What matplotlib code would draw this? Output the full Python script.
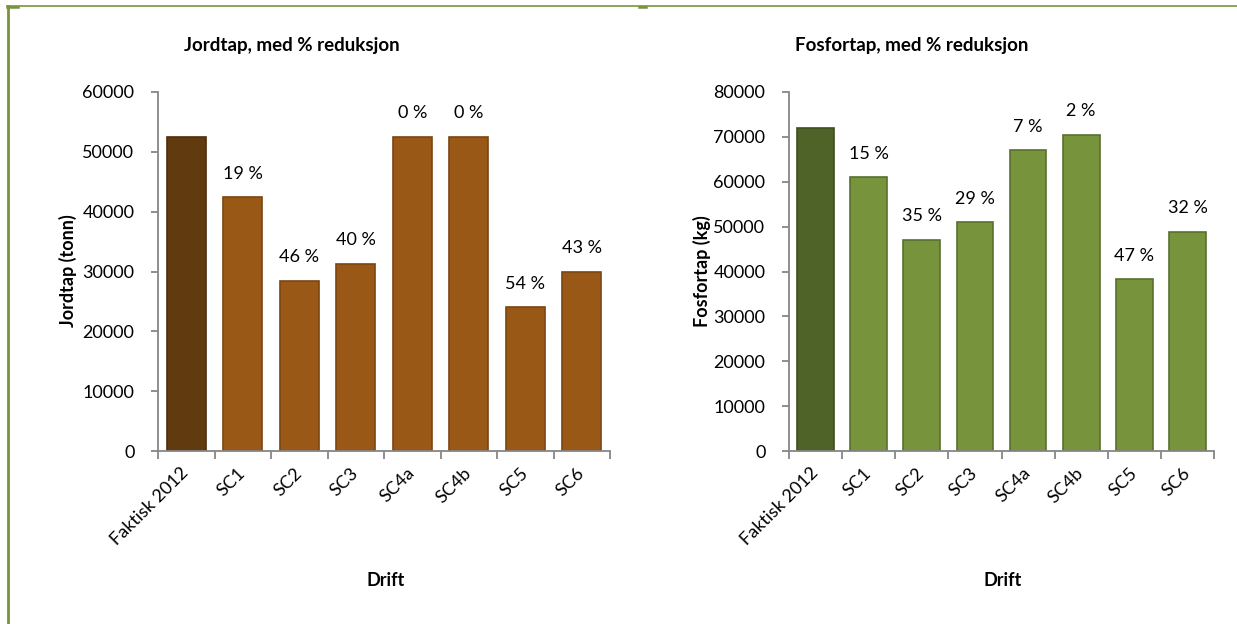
import matplotlib
matplotlib.use("Agg")
from matplotlib import pyplot as plt
from matplotlib.lines import Line2D
import numpy as np

plt.rcParams['font.family'] = ['Lato', 'DejaVu Sans']

# scenarios along the x axis
drift = ["Faktisk 2012", "SC1", "SC2", "SC3", "SC4a", "SC4b", "SC5", "SC6"]

# soil loss (tonn) and phosphorus loss (kg) per scenario
jordtap = [52500, 42400, 28400, 31300, 52500, 52500, 24000, 29900]
fosfortap = [72000, 61000, 47000, 51000, 67000, 70400, 38300, 48900]

# reduction labels relative to Faktisk 2012
jord_red = ["", "19 %", "46 %", "40 %", "0 %", "0 %", "54 %", "43 %"]
fosfor_red = ["", "15 %", "35 %", "29 %", "7 %", "2 %", "47 %", "32 %"]

axis_grey = "#868686"


def bar_panel(ax, values, labels, base_col, base_edge, col, edge, ymax):
  x = np.arange(len(values))
  colors = [base_col] + [col] * (len(values) - 1)
  edges = [base_edge] + [edge] * (len(values) - 1)
  bars = ax.bar(x, values, width=0.69, color=colors, edgecolor=edges, linewidth=1.2, zorder=2)
  for b, lab in zip(bars, labels):
    if lab:
      ax.annotate(lab, (b.get_x() + b.get_width() / 2, b.get_height()),
                  xytext=(0, 17), textcoords="offset points",
                  ha="center", va="center", fontsize=13, color="black")
  ax.set_xlim(-0.5, len(values) - 0.5)
  ax.set_ylim(0, ymax)
  ax.set_yticks(np.arange(0, ymax + 1, 10000))
  ax.tick_params(axis="y", length=5, width=1.3, color=axis_grey, labelsize=13, pad=12)
  # category ticks sit between bars, names sit under bar centres
  ax.set_xticks(np.arange(-0.5, len(values)), minor=False)
  ax.set_xticklabels([])
  ax.set_xticks(x, minor=True)
  ax.set_xticklabels(drift, minor=True, rotation=45, ha="right", va="center",
                     rotation_mode="anchor", fontsize=13)
  ax.tick_params(axis="x", which="major", length=6, width=1.3, color=axis_grey)
  ax.tick_params(axis="x", which="minor", length=0, pad=14)
  for s in ["top", "right"]:
    ax.spines[s].set_visible(False)
  for s in ["left", "bottom"]:
    ax.spines[s].set_color(axis_grey)
    ax.spines[s].set_linewidth(1.3)
  return bars


fig = plt.figure(figsize=(12.37, 6.24), dpi=100)
W, H = 1237, 624

ax1 = fig.add_axes([158 / W, (H - 451) / H, 452 / W, 359 / H])
ax2 = fig.add_axes([789 / W, (H - 451) / H, 425 / W, 359 / H])

bar_panel(ax1, jordtap, jord_red, "#623A0F", "#4E2E0B", "#995815", "#7A4611", 60000)
bar_panel(ax2, fosfortap, fosfor_red, "#4F6228", "#3E4E1F", "#77933C", "#5A7030", 80000)

# titles and axis titles
fig.text(292 / W, 1 - 45 / H, "Jordtap, med % reduksjon", ha="center", va="center",
         fontsize=13.5, fontweight="bold")
fig.text(912 / W, 1 - 45 / H, "Fosfortap, med % reduksjon", ha="center", va="center",
         fontsize=13.5, fontweight="bold")
fig.text(68 / W, 1 - 271 / H, "Jordtap (tonn)", rotation=90, ha="center", va="center",
         fontsize=13, fontweight="bold")
fig.text(702 / W, 1 - 271 / H, "Fosfortap (kg)", rotation=90, ha="center", va="center",
         fontsize=13, fontweight="bold")
fig.text(386 / W, 1 - 580 / H, "Drift", ha="center", va="center", fontsize=13, fontweight="bold")
fig.text(1003 / W, 1 - 580 / H, "Drift", ha="center", va="center", fontsize=13, fontweight="bold")

# green page frame
frame = "#77933C"
fig.add_artist(Line2D([7 / W, 1], [1 - 6 / H, 1 - 6 / H], color=frame, linewidth=1.2,
                      transform=fig.transFigure))
fig.add_artist(Line2D([8 / W, 8 / W], [0, 1 - 6 / H], color=frame, linewidth=2.0,
                      transform=fig.transFigure))
fig.add_artist(Line2D([7 / W, 18 / W], [1 - 6.5 / H, 1 - 6.5 / H], color=frame, linewidth=1.8,
                      transform=fig.transFigure))
fig.add_artist(Line2D([639 / W, 646 / W], [1 - 6.5 / H, 1 - 6.5 / H], color=frame, linewidth=1.8,
                      transform=fig.transFigure))

fig.savefig("out.png", dpi=100)
